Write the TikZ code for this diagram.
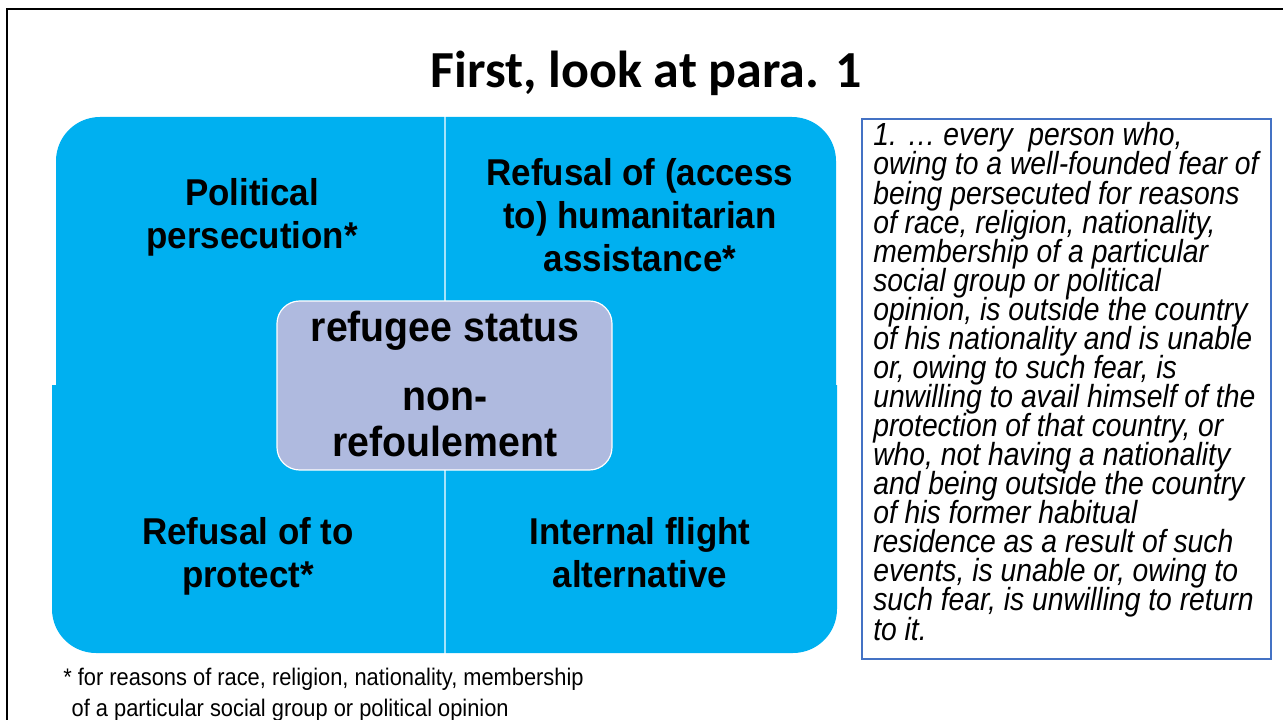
\documentclass[tikz,border=0pt]{standalone}
\usepackage{fontspec}
\setmainfont{Liberation Sans}
\newfontfamily\quadfont{Liberation Sans}[FakeStretch=0.935]
\newfontfamily\parafont{Liberation Sans}[FakeStretch=0.884]
\newfontfamily\notefont{Liberation Sans}[FakeStretch=0.91]
\newfontfamily\titlefont{Carlito}
\newcommand\parastyle{\parafont\itshape\fontsize{24}{21.8}\selectfont
  \lineskiplimit=-20pt\relax}
\definecolor{quadblue}{HTML}{00B0F0}
\definecolor{hubfill}{HTML}{AFBADF}
\definecolor{boxblue}{HTML}{4472C4}
\def\tlquad{(56,117) rectangle (444.3,384.3)}
\def\trquad{(445.7,117) rectangle (836,384.3)}
\def\blquad{(52,385.7) rectangle (444.3,653)}
\def\brquad{(445.7,385.7) rectangle (837,653)}
\tikzset{
  quadtext/.style={font=\quadfont\bfseries\fontsize{28}{32.25}\selectfont,
    align=center, anchor=base, inner sep=0pt},
  hubtext/.style={font=\quadfont\bfseries\fontsize{31.5}{35.25}\selectfont,
    align=center, anchor=base, inner sep=0pt},
}

\begin{document}
\begin{tikzpicture}[x=0.75pt,y=-0.75pt]
  \useasboundingbox (0,0) rectangle (1283,720);
  \draw[line width=1.6pt] (7,720) -- (7,9) -- (1283,9);
  \node[font=\titlefont\bfseries\fontsize{39}{46}\selectfont, anchor=base, inner sep=0pt]
    (title) at (646,88) {First, look at para. 1};
  % the four quadrants
  \begin{scope}
    \clip \tlquad;
    \fill[quadblue, rounded corners=33pt] (56,117) rectangle (700,700);
  \end{scope}
  \begin{scope}
    \clip \trquad;
    \fill[quadblue, rounded corners=33pt] (300,117) rectangle (836,700);
  \end{scope}
  \begin{scope}
    \clip \blquad;
    \fill[quadblue, rounded corners=33pt] (52,0) rectangle (700,653);
  \end{scope}
  \begin{scope}
    \clip \brquad;
    \fill[quadblue, rounded corners=33pt] (300,0) rectangle (837,653);
  \end{scope}
  % base anchor = last line
  \node[quadtext] (political) at (252,249) {Political\\persecution*};
  \node[quadtext] (access) at (640,272) {Refusal of (access\\to) humanitarian\\assistance*};
  \node[quadtext] (protect) at (248,587) {Refusal of to\\protect*};
  \node[quadtext] (flight) at (640,587) {Internal flight\\alternative};
  % centre
  \draw[fill=hubfill, draw=white, line width=0.9pt, rounded corners=17pt]
    (277,301) rectangle (612,470);
  \node[hubtext] (status) at (445,457) {refugee status\\[16pt]non-\\refoulement};
  % para. 1 text
  \draw[boxblue, line width=2.2pt] (862,119) rectangle (1271,659);
  \node[font=\parastyle, align=left, anchor=base west, inner sep=0pt]
    (para) at (873,640)
    {1. \dots\ every~ person who,\\
     owing to a well-founded fear of\\
     being persecuted for reasons\\
     of race, religion, nationality,\\
     membership of a particular\\
     social group or political\\
     opinion, is outside the country\\
     of his nationality and is unable\\
     or, owing to such fear, is\\
     unwilling to avail himself of the\\
     protection of that country, or\\
     who, not having a nationality\\
     and being outside the country\\
     of his former habitual\\
     residence as a result of such\\
     events, is unable or, owing to\\
     such fear, is unwilling to return\\
     to it.};
  \node[font=\notefont\fontsize{18}{23.25}\selectfont, align=left,
    anchor=base west, inner sep=0pt] (note) at (63,716)
    {* for reasons of race, religion, nationality, membership\\
     \hspace*{0.35em}of a particular social group or political opinion};
\end{tikzpicture}
\end{document}
